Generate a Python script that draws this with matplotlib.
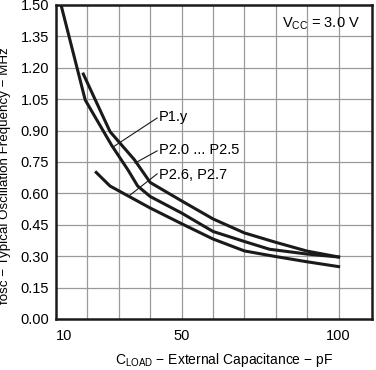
"""Typical oscillation frequency vs. external load capacitance."""

import matplotlib

matplotlib.use("Agg")
import matplotlib.pyplot as plt

plt.rcParams["font.family"] = ["Liberation Sans", "DejaVu Sans"]

# P1.y
p1_cap = [11.6, 19.3, 27.7, 33.0, 36.0, 40.0, 50.0, 60.0, 70.0, 78.0, 90.0, 100.0]
p1_freq = [1.50, 1.046, 0.83, 0.71, 0.635, 0.585, 0.506, 0.418, 0.37, 0.333, 0.31, 0.296]

# P2.0 ... P2.5
p20_cap = [18.7, 27.2, 35.0, 40.0, 50.0, 60.0, 70.0, 80.0, 90.0, 100.0]
p20_freq = [1.17, 0.895, 0.76, 0.652, 0.564, 0.478, 0.411, 0.366, 0.324, 0.296]

# P2.6, P2.7
p26_cap = [22.8, 27.2, 40.0, 50.0, 60.0, 70.0, 80.0, 90.0, 100.0]
p26_freq = [0.70, 0.635, 0.53, 0.455, 0.382, 0.325, 0.298, 0.273, 0.25]

x_ticks = [10, 50, 100]
x_grid = [20, 30, 40, 50, 60, 70, 80, 90, 100]
y_ticks = [0.0, 0.15, 0.30, 0.45, 0.60, 0.75, 0.90, 1.05, 1.20, 1.35, 1.50]

fig = plt.figure(figsize=(3.76, 3.70), dpi=100)
ax = fig.add_axes([0.149, 0.138, 0.840, 0.8485])

for x in x_grid:
    ax.axvline(x, color="#9a9a9a", linewidth=0.9, zorder=1)
for y in y_ticks[1:-1]:
    ax.axhline(y, color="#9a9a9a", linewidth=0.9, zorder=1)

line_style = dict(color="#1a1a1a", linewidth=2.2, solid_joinstyle="miter", zorder=3)
ax.plot(p1_cap, p1_freq, **line_style)
ax.plot(p20_cap, p20_freq, **line_style)
ax.plot(p26_cap, p26_freq, **line_style)

# leader lines + labels
leader = dict(color="#1a1a1a", linewidth=0.8, zorder=2)
ax.plot([42.2, 28.2], [0.960, 0.822], **leader)
ax.text(42.8, 0.965, "P1.y", fontsize=10.5, va="center", ha="left")
ax.plot([42.2, 35.2], [0.803, 0.745], **leader)
ax.text(42.8, 0.808, "P2.0 ... P2.5", fontsize=10.5, va="center", ha="left")
ax.plot([42.2, 33.6], [0.693, 0.592], **leader)
ax.text(42.8, 0.686, "P2.6, P2.7", fontsize=10.5, va="center", ha="left")

ax.text(106.8, 1.41, r"V$_{\mathregular{CC}}$ = 3.0 V", fontsize=10.5, va="center", ha="right")

ax.set_xlim(10, 110.6)
ax.set_ylim(0, 1.5)
ax.set_xticks(x_ticks)
ax.set_yticks(y_ticks)
ax.set_yticklabels([f"{v:.2f}" for v in y_ticks])
ax.tick_params(length=0, labelsize=10.5, pad=5)
ax.tick_params(axis="x", pad=7)
# first x label sits just right of the axis in the reference
ax.get_xticklabels()[0].set_horizontalalignment("left")

for spine in ax.spines.values():
    spine.set_linewidth(1.8)
    spine.set_color("#1a1a1a")

ax.set_xlabel(r"C$_{\mathregular{LOAD}}$ − External Capacitance − pF", fontsize=10, va="center")
ax.xaxis.set_label_coords(0.532, -0.13)
ax.set_ylabel("fosc − Typical Oscillation Frequency − MHz", fontsize=9.6)
ax.yaxis.set_label_coords(-0.142, 0.455)

fig.savefig("out.png", dpi=100)
plt.close(fig)
